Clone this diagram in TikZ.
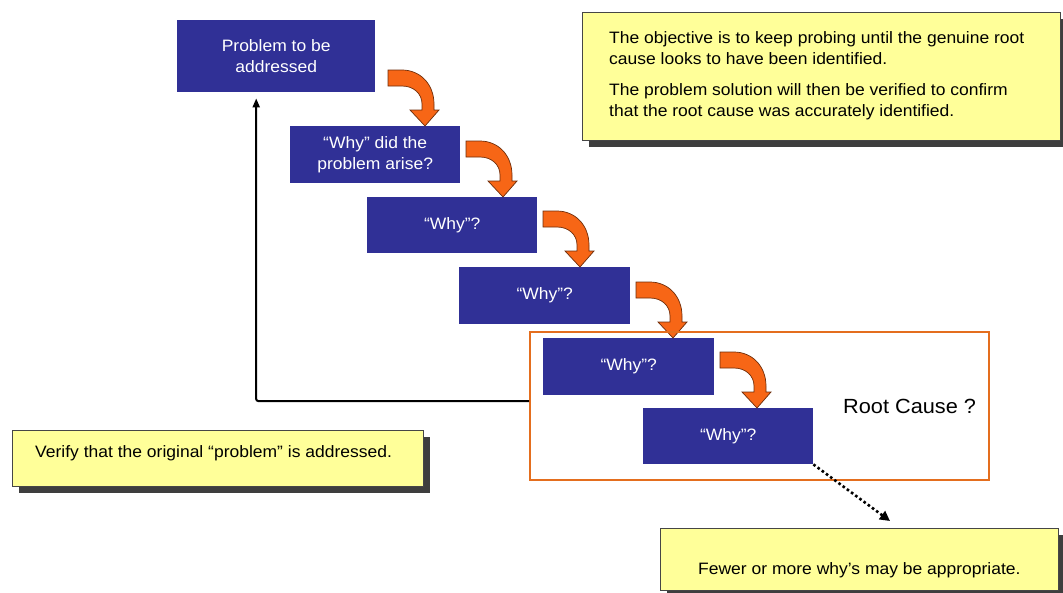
\documentclass[tikz,border=0pt]{standalone}
\usepackage{fontspec}
\setmainfont{Liberation Sans}[FakeStretch=1.06]
\usetikzlibrary{calc,shadows,arrows.meta}

\definecolor{whyblue}{RGB}{48,48,150}
\definecolor{bendfill}{RGB}{247,102,22}
\definecolor{bendline}{RGB}{110,45,10}
\definecolor{framecol}{RGB}{228,110,30}
\definecolor{notefill}{RGB}{255,255,153}
\definecolor{noteline}{RGB}{70,70,70}
\definecolor{shadowcol}{RGB}{62,62,62}

\tikzset{
  whybox/.style={fill=whyblue, text=white, anchor=north west, inner sep=0pt,
    align=center, font=\fontsize{16.5}{21.5}\selectfont},
  notebox/.style={draw=noteline, line width=0.8pt, fill=notefill, anchor=north west,
    inner sep=0pt, general shadow={fill=shadowcol, shadow xshift=7pt, shadow yshift=-7pt}},
  notetext/.style={font=\fontsize{16.5}{21}\selectfont, inner sep=0pt, align=left},
  rootframe/.style={draw=framecol, line width=2.4pt, anchor=north west, inner sep=0pt},
  feedback/.style={draw=black, line width=2pt, rounded corners=2pt,
    -{Triangle[width=7pt,length=9pt]}},
  moreless/.style={draw=black, line width=2.6pt, dash pattern=on 2.6pt off 2.6pt,
    -{Triangle[width=10pt,length=10pt]}},
  % bent block arrow, drawn around its tip at (0,0)
  pics/bendarrow/.style={code={
    \fill[bendfill, draw=bendline, line width=0.7pt, line join=miter]
      (-37,-56) -- (-23,-56) .. controls (-5,-56) and (9,-42) .. (9,-22)
      -- (9,-16) -- (14,-16) -- (0,0) -- (-15,-16) -- (-3,-16) -- (-3,-22)
      .. controls (-3,-32) and (-11,-40) .. (-23,-40) -- (-37,-40) -- cycle;
  }}
}

\begin{document}
\begin{tikzpicture}[x=1pt,y=-1pt]
\useasboundingbox (0,0) rectangle (1063,592);

% chain of "why" steps
\node[whybox, minimum width=198pt, minimum height=72pt] (b1) at (177,20) {Problem to be\\addressed};
\node[whybox, minimum width=170pt, minimum height=57pt] (b2) at (290,126) {“Why” did the\\problem arise?};
\node[whybox, minimum width=170pt, minimum height=56pt] (b3) at (367,197) {“Why”?};
\node[whybox, minimum width=171pt, minimum height=57pt] (b4) at (459,267) {“Why”?};
\node[whybox, minimum width=171pt, minimum height=57pt] (b5) at (543,338) {“Why”?};
\node[whybox, minimum width=170pt, minimum height=56pt] (b6) at (643,408) {“Why”?};

% bent arrows stepping down to the next question
\pic at ($(b2.north west)+(135,0)$) {bendarrow};
\pic at ($(b3.north west)+(136,0)$) {bendarrow};
\pic at ($(b4.north west)+(121,0)$) {bendarrow};
\pic at ($(b5.north west)+(130,0)$) {bendarrow};
\pic at ($(b6.north west)+(114,0)$) {bendarrow};

% root cause region
\node[rootframe, minimum width=459pt, minimum height=148pt] (rc) at (529,331) {};
\node[font=\fontsize{20.5}{22}\selectfont, anchor=base west, inner sep=0pt] (rclabel) at (843,413) {Root Cause ?};

% feedback to the original problem
\coordinate (fbstart) at ($(rc.north west)+(0,70)$);
\draw[feedback] (fbstart) -| ($(b1.south)+(-20,6)$);

% notes
\node[notebox, minimum width=478pt, minimum height=128pt] (n1) at (582,12) {};
\node[notetext, anchor=north west] (n1t) at (609,31) {The objective is to keep probing until the genuine root\\cause looks to have been identified.\\[10pt]The problem solution will then be verified to confirm\\that the root cause was accurately identified.};

\node[notebox, minimum width=411pt, minimum height=56pt] (n2) at (12,430) {};
\node[notetext, anchor=base west] (n2t) at (35,457) {Verify that the original “problem” is addressed.};

\node[notebox, minimum width=398pt, minimum height=62pt] (n3) at (660,528) {};
\node[notetext, anchor=base west] (n3t) at (698,574) {Fewer or more why’s may be appropriate.};

% more or fewer steps
\draw[moreless] (b6.south east) -- ($(n3.north west)+(230,-7)$);
\end{tikzpicture}
\end{document}
